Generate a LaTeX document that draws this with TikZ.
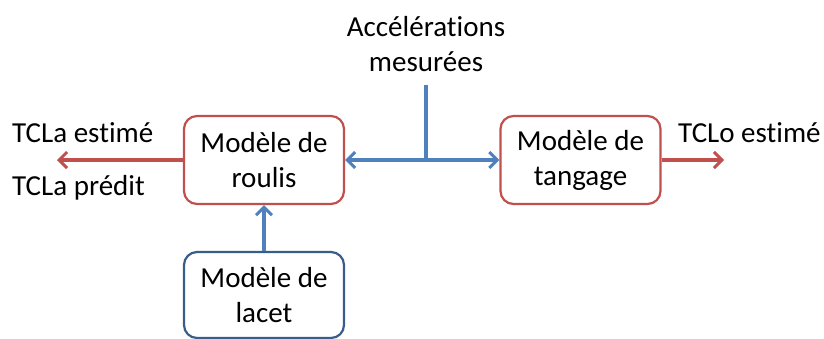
\documentclass[tikz,border=0pt]{standalone}
\usepackage{fontspec}
\setmainfont{Carlito}[Ligatures=NoCommon]
\usetikzlibrary{arrows.meta}
\definecolor{cred}{HTML}{C0504D}
\definecolor{cblue}{HTML}{4F81BD}
\definecolor{cdblue}{HTML}{385D8A}
\tikzset{barb/.tip={Straight Barb[length=8pt,width=16pt,line width=3pt]}}
\begin{document}
\begin{tikzpicture}[x=1pt,y=-1pt,
  model/.style={draw=cred,line width=2.2pt,rounded corners=13pt,minimum width=160pt,minimum height=88pt,align=center,font=\fontsize{29}{35}\selectfont,fill=white,inner sep=0pt},
  lbl/.style={font=\fontsize{29}{35}\selectfont,inner sep=0pt},
  redarr/.style={draw=cred,line width=3.4pt,-barb},
  bluearr/.style={draw=cblue,line width=3.4pt,-barb}]
\useasboundingbox (0,0) rectangle (824,338);
\node[model] (roulis) at (264,160) {Modèle de\\roulis};
\node[model] (tangage) at (580.5,160) {Modèle de\\tangage};
\node[model,draw=cdblue,minimum height=86pt] (lacet) at (264,295) {Modèle de\\lacet};
\node[lbl,align=center] (acc) at (426,44) {Accélérations\\mesurées};
\coordinate (top) at (426,85);
\coordinate (mid) at (426,160);
\coordinate (lend) at (57,160);
\coordinate (rend) at (724,160);
\node[lbl,anchor=west] (tla) at (12,133) {TCLa estimé};
\node[lbl,anchor=west] (tlp) at (12,188) {TCLa prédit};
\node[lbl,anchor=west] (tlo) at (678,133) {TCLo estimé};
\draw[redarr] (roulis.west) -- (lend);
\draw[redarr] (tangage.east) -- (rend);
\draw[bluearr] (lacet.north) -- (roulis.south);
\draw[draw=cblue,line width=3.4pt] (top) -- (mid);
\draw[draw=cblue,line width=3.4pt,barb-barb] (roulis.east) -- (tangage.west);
\end{tikzpicture}
\end{document}
